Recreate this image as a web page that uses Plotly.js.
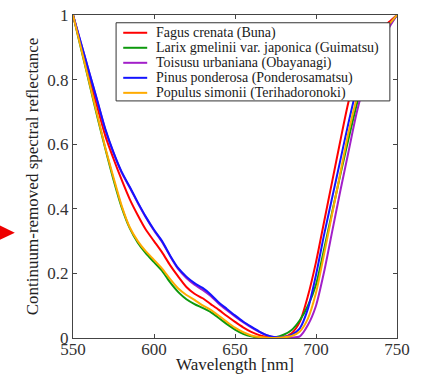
<!DOCTYPE html>
<html>
<head>
<meta charset="utf-8">
<script src="https://cdn.plot.ly/plotly-3.0.1.min.js"></script>
<style>html,body{margin:0;padding:0;background:#fff;}#chart{width:421px;height:374px;}</style>
</head>
<body>
<div id="chart"></div>
<script>
var wavelength = [550,555,560,565,570,575,580,585,590,595,600,605,610,615,620,625,630,635,640,645,650,655,660,665,670,675,680,685,690,695,700,705,710,715,720,725,730,735,740,745,750];

var seriesNames = [
  "Fagus crenata (Buna)",
  "Larix gmelinii var. japonica (Guimatsu)",
  "Toisusu urbaniana (Obayanagi)",
  "Pinus ponderosa (Ponderosamatsu)",
  "Populus simonii (Terihadoronoki)"
];
var seriesColors = ["#ff0000", "#0d990d", "#a21fc9", "#1414ff", "#ffab00"];

var fagus = [1.0,0.905,0.81,0.715,0.625,0.555,0.49,0.43,0.38,0.335,0.30,0.265,0.225,0.19,0.158,0.137,0.123,0.105,0.087,0.068,0.05,0.033,0.019,0.009,0.003,0.0,0.003,0.015,0.05,0.13,0.235,0.36,0.485,0.61,0.73,0.82,0.88,0.925,0.955,0.978,1.0];
var larix = [1.0,0.895,0.79,0.685,0.585,0.49,0.405,0.34,0.295,0.262,0.235,0.208,0.172,0.142,0.12,0.105,0.093,0.08,0.062,0.043,0.026,0.013,0.005,0.001,0.0,0.002,0.01,0.025,0.055,0.1,0.165,0.275,0.39,0.505,0.615,0.72,0.81,0.875,0.925,0.965,1.0];
var toisusu = [1.0,0.911,0.822,0.733,0.644,0.573,0.512,0.466,0.418,0.373,0.333,0.297,0.253,0.213,0.186,0.165,0.149,0.13,0.106,0.086,0.067,0.049,0.033,0.019,0.008,0.002,0.0,0.001,0.005,0.04,0.10,0.205,0.33,0.455,0.575,0.695,0.79,0.86,0.915,0.96,1.0];
var pinus = [1.0,0.912,0.823,0.735,0.646,0.575,0.515,0.468,0.42,0.375,0.335,0.3,0.255,0.216,0.19,0.17,0.155,0.135,0.11,0.09,0.07,0.051,0.035,0.02,0.008,0.002,0.003,0.01,0.03,0.09,0.195,0.32,0.435,0.55,0.665,0.77,0.85,0.90,0.94,0.97,1.0];
var populus = [1.0,0.897,0.793,0.69,0.588,0.497,0.41,0.343,0.3,0.268,0.242,0.215,0.182,0.153,0.133,0.118,0.101,0.087,0.069,0.05,0.032,0.018,0.008,0.003,0.001,0.0,0.002,0.006,0.02,0.06,0.14,0.26,0.385,0.51,0.635,0.74,0.83,0.89,0.935,0.97,1.0];

var xTickVals = [550,600,650,700,750];
var yTickVals = [0,0.2,0.4,0.6,0.8,1];
var yTickText = ["0","0.2","0.4","0.6","0.8","1"];

var allSeries = [fagus, larix, toisusu, pinus, populus];

var FAM = "Liberation Serif";

var traces = allSeries.map(function(vals, i){
  return {
    type: "scatter", mode: "lines", x: wavelength, y: vals, name: seriesNames[i],
    line: {color: seriesColors[i], width: 2, shape: "spline", smoothing: 0.7},
    showlegend: false
  };
});

// compact legend box (matplotlib style)
var legX0 = 0.133, legX1 = 0.978, legY0 = 0.734, legY1 = 0.976;
var rowTop = 0.945, rowStep = 0.0465;
var shapes = [{
  type: "rect", xref: "paper", yref: "paper", x0: legX0, x1: legX1, y0: legY0, y1: legY1,
  fillcolor: "#ffffff", line: {color: "#333333", width: 1}, layer: "above"
}];
var annotations = [];
seriesNames.forEach(function(nm, i){
  var yy = rowTop - i*rowStep;
  shapes.push({type: "line", xref: "paper", yref: "paper", x0: 0.155, x1: 0.229, y0: yy, y1: yy,
    line: {color: seriesColors[i], width: 2}, layer: "above"});
  annotations.push({xref: "paper", yref: "paper", x: 0.251, y: yy, xanchor: "left", yanchor: "middle",
    text: nm, showarrow: false, font: {family: FAM, size: 14, color: "#1a1a1a"}});
});
// red pointer triangle at left edge
shapes.push({type: "path", xref: "paper", yref: "paper",
  path: "M -0.24 0.355 L -0.1796 0.326 L -0.24 0.297 Z",
  fillcolor: "#ee0000", line: {color: "#ee0000", width: 0}});

var layout = {
  width: 421, height: 374,
  margin: {l: 73, r: 24, t: 15, b: 36, pad: 0},
  paper_bgcolor: "#ffffff", plot_bgcolor: "#ffffff",
  showlegend: false,
  font: {family: FAM, size: 17, color: "#222222"},
  xaxis: {
    range: [550, 750], tickvals: xTickVals, ticks: "inside", ticklen: 4, tickcolor: "#444",
    showline: true, linecolor: "#444", linewidth: 1, mirror: "ticks", showgrid: false, zeroline: false,
    ticklabelstandoff: -4,
    tickfont: {family: FAM, size: 17, color: "#333333"},
    title: {text: "Wavelength [nm]", font: {family: FAM, size: 17, color: "#222222"}, standoff: 4}
  },
  yaxis: {
    range: [0, 1], tickvals: yTickVals, ticktext: yTickText, ticks: "inside", ticklen: 4, tickcolor: "#444",
    showline: true, linecolor: "#444", linewidth: 1, mirror: "ticks", showgrid: false, zeroline: false,
    tickfont: {family: FAM, size: 17, color: "#333333"},
    title: {text: "Continuum-removed spectral reflectance", font: {family: FAM, size: 17, color: "#222222"}, standoff: 4}
  },
  shapes: shapes,
  annotations: annotations
};

Plotly.newPlot("chart", traces, layout, {displayModeBar: false});
</script>
</body>
</html>
